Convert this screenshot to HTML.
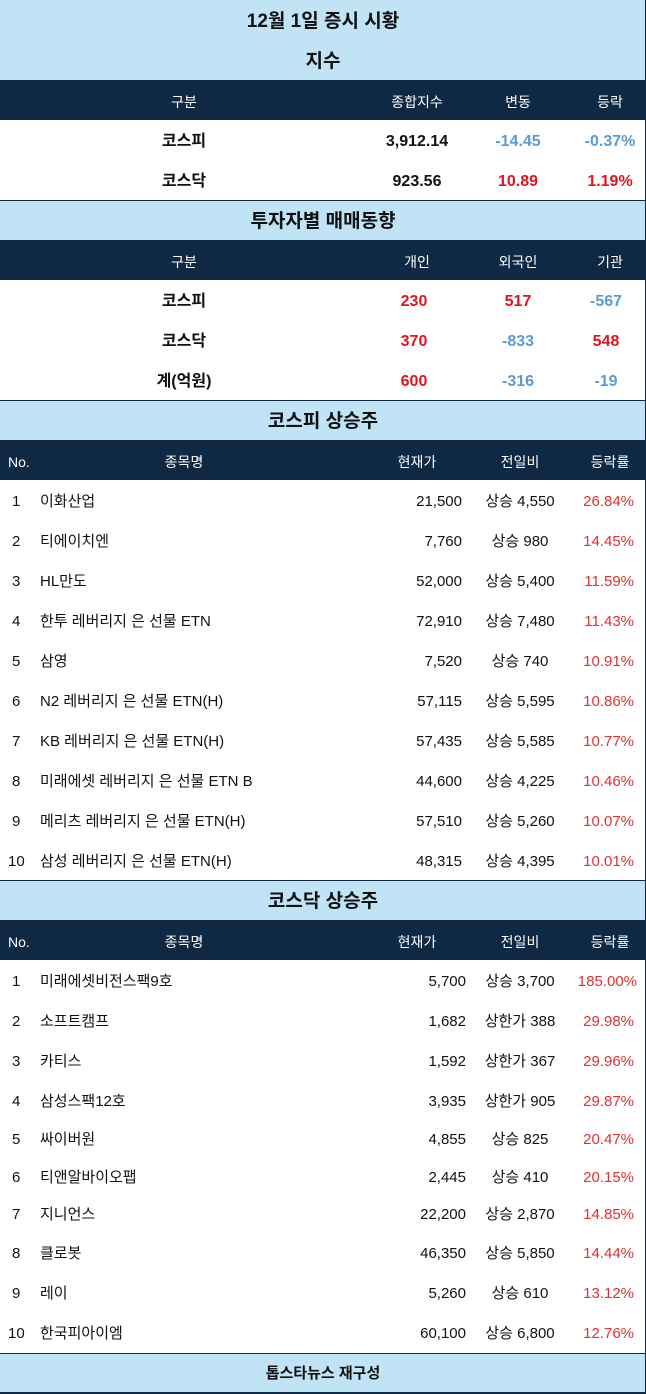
<!DOCTYPE html><html><head><meta charset="utf-8"><style>
body{margin:0;width:646px;height:1394px;position:relative;background:#fff;font-family:"Liberation Sans","Noto Sans CJK KR",sans-serif;overflow:hidden}
.b{position:absolute;left:0;width:645px;border-right:1px solid #0f2a44}
.sec{background:#c0e4f5;font-weight:bold;font-size:19px;text-align:center;color:#111}
.hd{background:#0f2843;color:#fff;font-size:14px}
.r{font-size:15px;color:#111}
.t{position:absolute;white-space:nowrap;line-height:20px;margin-top:2px}
.sec .t{line-height:24px}
.c{transform:translateX(-50%)}
.rt{transform:translateX(-100%)}
.red{color:#e0141e}.blu{color:#5b9bd5}.pr{color:#e03030}
.bold{font-weight:bold;font-size:16px}
.line{position:absolute;left:0;width:646px;height:1px;background:#0f2a44}
</style></head><body>
<div class="b sec" style="top:0;height:80px"><div class="t c" style="left:323px;top:8px">12월 1일 증시 시황</div><div class="t c" style="left:323px;top:48px">지수</div></div>
<div class="b hd" style="top:80px;height:40px"><span class="t c" style="left:184px;top:10px">구분</span><span class="t c" style="left:417px;top:10px">종합지수</span><span class="t c" style="left:518px;top:10px">변동</span><span class="t c" style="left:610px;top:10px">등락</span></div>
<div class="b r bold" style="top:120px;height:80px">
<span class="t c" style="left:184px;top:10px">코스피</span><span class="t c" style="left:417px;top:10px">3,912.14</span><span class="t c blu" style="left:518px;top:10px">-14.45</span><span class="t c blu" style="left:610px;top:10px">-0.37%</span>
<span class="t c" style="left:184px;top:50px">코스닥</span><span class="t c" style="left:417px;top:50px">923.56</span><span class="t c red" style="left:518px;top:50px">10.89</span><span class="t c red" style="left:610px;top:50px">1.19%</span></div>
<div class="line" style="top:200px"></div>
<div class="b sec" style="top:201px;height:39px"><div class="t c" style="left:323px;top:7px">투자자별 매매동향</div></div>
<div class="b hd" style="top:240px;height:40px"><span class="t c" style="left:184px;top:10px">구분</span><span class="t c" style="left:417px;top:10px">개인</span><span class="t c" style="left:518px;top:10px">외국인</span><span class="t c" style="left:610px;top:10px">기관</span></div>
<div class="b r bold" style="top:280px;height:120px">
<span class="t c" style="left:184px;top:10px">코스피</span><span class="t c red" style="left:414px;top:10px">230</span><span class="t c red" style="left:518px;top:10px">517</span><span class="t c blu" style="left:606px;top:10px">-567</span>
<span class="t c" style="left:184px;top:50px">코스닥</span><span class="t c red" style="left:414px;top:50px">370</span><span class="t c blu" style="left:518px;top:50px">-833</span><span class="t c red" style="left:606px;top:50px">548</span>
<span class="t c" style="left:184px;top:90px">계(억원)</span><span class="t c red" style="left:414px;top:90px">600</span><span class="t c blu" style="left:518px;top:90px">-316</span><span class="t c blu" style="left:606px;top:90px">-19</span></div>
<div class="line" style="top:400px"></div>
<div class="b sec" style="top:401px;height:39px"><div class="t c" style="left:323px;top:7px">코스피 상승주</div></div>
<div class="b hd" style="top:440px;height:40px"><span class="t" style="left:8px;top:10px">No.</span><span class="t c" style="left:184px;top:10px">종목명</span><span class="t c" style="left:417px;top:10px">현재가</span><span class="t c" style="left:520px;top:10px">전일비</span><span class="t c" style="left:610px;top:10px">등락률</span></div>
<div class="b r" style="top:480px;height:400px">
<span class="t" style="left:12px;top:10px">1</span><span class="t" style="left:40px;top:10px">이화산업</span><span class="t rt" style="left:462px;top:10px">21,500</span><span class="t c" style="left:520px;top:10px">상승 4,550</span><span class="t rt pr" style="left:634px;top:10px">26.84%</span>
<span class="t" style="left:12px;top:50px">2</span><span class="t" style="left:40px;top:50px">티에이치엔</span><span class="t rt" style="left:462px;top:50px">7,760</span><span class="t c" style="left:520px;top:50px">상승 980</span><span class="t rt pr" style="left:634px;top:50px">14.45%</span>
<span class="t" style="left:12px;top:90px">3</span><span class="t" style="left:40px;top:90px">HL만도</span><span class="t rt" style="left:462px;top:90px">52,000</span><span class="t c" style="left:520px;top:90px">상승 5,400</span><span class="t rt pr" style="left:634px;top:90px">11.59%</span>
<span class="t" style="left:12px;top:130px">4</span><span class="t" style="left:40px;top:130px">한투 레버리지 은 선물 ETN</span><span class="t rt" style="left:462px;top:130px">72,910</span><span class="t c" style="left:520px;top:130px">상승 7,480</span><span class="t rt pr" style="left:634px;top:130px">11.43%</span>
<span class="t" style="left:12px;top:170px">5</span><span class="t" style="left:40px;top:170px">삼영</span><span class="t rt" style="left:462px;top:170px">7,520</span><span class="t c" style="left:520px;top:170px">상승 740</span><span class="t rt pr" style="left:634px;top:170px">10.91%</span>
<span class="t" style="left:12px;top:210px">6</span><span class="t" style="left:40px;top:210px">N2 레버리지 은 선물 ETN(H)</span><span class="t rt" style="left:462px;top:210px">57,115</span><span class="t c" style="left:520px;top:210px">상승 5,595</span><span class="t rt pr" style="left:634px;top:210px">10.86%</span>
<span class="t" style="left:12px;top:250px">7</span><span class="t" style="left:40px;top:250px">KB 레버리지 은 선물 ETN(H)</span><span class="t rt" style="left:462px;top:250px">57,435</span><span class="t c" style="left:520px;top:250px">상승 5,585</span><span class="t rt pr" style="left:634px;top:250px">10.77%</span>
<span class="t" style="left:12px;top:290px">8</span><span class="t" style="left:40px;top:290px">미래에셋 레버리지 은 선물 ETN B</span><span class="t rt" style="left:462px;top:290px">44,600</span><span class="t c" style="left:520px;top:290px">상승 4,225</span><span class="t rt pr" style="left:634px;top:290px">10.46%</span>
<span class="t" style="left:12px;top:330px">9</span><span class="t" style="left:40px;top:330px">메리츠 레버리지 은 선물 ETN(H)</span><span class="t rt" style="left:462px;top:330px">57,510</span><span class="t c" style="left:520px;top:330px">상승 5,260</span><span class="t rt pr" style="left:634px;top:330px">10.07%</span>
<span class="t" style="left:8px;top:370px">10</span><span class="t" style="left:40px;top:370px">삼성 레버리지 은 선물 ETN(H)</span><span class="t rt" style="left:462px;top:370px">48,315</span><span class="t c" style="left:520px;top:370px">상승 4,395</span><span class="t rt pr" style="left:634px;top:370px">10.01%</span></div>
<div class="line" style="top:880px"></div>
<div class="b sec" style="top:881px;height:39px"><div class="t c" style="left:323px;top:7px">코스닥 상승주</div></div>
<div class="b hd" style="top:920px;height:40px"><span class="t" style="left:8px;top:10px">No.</span><span class="t c" style="left:184px;top:10px">종목명</span><span class="t c" style="left:417px;top:10px">현재가</span><span class="t c" style="left:520px;top:10px">전일비</span><span class="t c" style="left:610px;top:10px">등락률</span></div>
<div class="b r" style="top:960px;height:393px">
<span class="t" style="left:12px;top:10px">1</span><span class="t" style="left:40px;top:10px">미래에셋비전스팩9호</span><span class="t rt" style="left:466px;top:10px">5,700</span><span class="t c" style="left:520px;top:10px">상승 3,700</span><span class="t rt pr" style="left:637px;top:10px">185.00%</span>
<span class="t" style="left:12px;top:50px">2</span><span class="t" style="left:40px;top:50px">소프트캠프</span><span class="t rt" style="left:466px;top:50px">1,682</span><span class="t c" style="left:520px;top:50px">상한가 388</span><span class="t rt pr" style="left:634px;top:50px">29.98%</span>
<span class="t" style="left:12px;top:90px">3</span><span class="t" style="left:40px;top:90px">카티스</span><span class="t rt" style="left:466px;top:90px">1,592</span><span class="t c" style="left:520px;top:90px">상한가 367</span><span class="t rt pr" style="left:634px;top:90px">29.96%</span>
<span class="t" style="left:12px;top:130px">4</span><span class="t" style="left:40px;top:130px">삼성스팩12호</span><span class="t rt" style="left:466px;top:130px">3,935</span><span class="t c" style="left:520px;top:130px">상한가 905</span><span class="t rt pr" style="left:634px;top:130px">29.87%</span>
<span class="t" style="left:12px;top:168px">5</span><span class="t" style="left:40px;top:168px">싸이버원</span><span class="t rt" style="left:466px;top:168px">4,855</span><span class="t c" style="left:520px;top:168px">상승 825</span><span class="t rt pr" style="left:634px;top:168px">20.47%</span>
<span class="t" style="left:12px;top:206px">6</span><span class="t" style="left:40px;top:206px">티앤알바이오팹</span><span class="t rt" style="left:466px;top:206px">2,445</span><span class="t c" style="left:520px;top:206px">상승 410</span><span class="t rt pr" style="left:634px;top:206px">20.15%</span>
<span class="t" style="left:12px;top:243px">7</span><span class="t" style="left:40px;top:243px">지니언스</span><span class="t rt" style="left:466px;top:243px">22,200</span><span class="t c" style="left:520px;top:243px">상승 2,870</span><span class="t rt pr" style="left:634px;top:243px">14.85%</span>
<span class="t" style="left:12px;top:282px">8</span><span class="t" style="left:40px;top:282px">클로봇</span><span class="t rt" style="left:466px;top:282px">46,350</span><span class="t c" style="left:520px;top:282px">상승 5,850</span><span class="t rt pr" style="left:634px;top:282px">14.44%</span>
<span class="t" style="left:12px;top:322px">9</span><span class="t" style="left:40px;top:322px">레이</span><span class="t rt" style="left:466px;top:322px">5,260</span><span class="t c" style="left:520px;top:322px">상승 610</span><span class="t rt pr" style="left:634px;top:322px">13.12%</span>
<span class="t" style="left:8px;top:362px">10</span><span class="t" style="left:40px;top:362px">한국피아이엠</span><span class="t rt" style="left:466px;top:362px">60,100</span><span class="t c" style="left:520px;top:362px">상승 6,800</span><span class="t rt pr" style="left:634px;top:362px">12.76%</span></div>
<div class="line" style="top:1353px"></div>
<div class="b sec" style="top:1354px;height:38px;font-size:15px"><div class="t c" style="left:323px;top:6px">톱스타뉴스 재구성</div></div>
<div class="line" style="top:1392px;height:2px"></div>
</body></html>
